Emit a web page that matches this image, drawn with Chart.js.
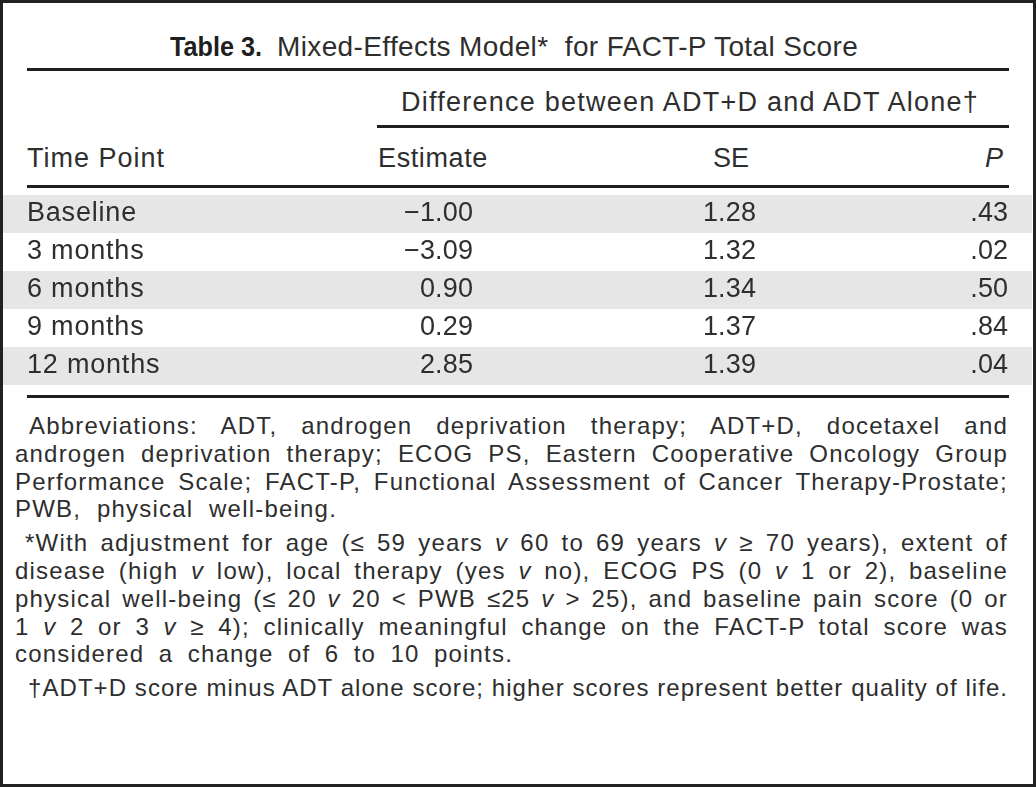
<!DOCTYPE html>
<html>
<head>
<meta charset="utf-8">
<script src="https://cdn.jsdelivr.net/npm/chart.js@4/dist/chart.umd.min.js"></script>
<style>
    html, body { margin: 0; padding: 0; background: #fff; }
    #page {
        position: relative; width: 1036px; height: 787px; overflow: hidden; background: #fff;
        font-family: "Liberation Sans", Arial, sans-serif; color: #2e2e2e;
    }
    #frame {
        position: absolute; left: 0; top: 0; width: 1036px; height: 787px; box-sizing: border-box;
        border: 3px solid #212121; pointer-events: none; z-index: 5;
    }
    .t { position: absolute; white-space: nowrap; line-height: 1; }
    .rule { position: absolute; height: 3px; background: #1e1e1e; }
    #tableNo { font-weight: bold; color: #1e1e1e; transform-origin: 0 0; }
    #rows { position: absolute; left: 3px; top: 195px; }
    #notes { position: absolute; left: 15px; top: 412px; font-size: 24px; line-height: 27.8px; letter-spacing: 1.2px; }
    .fl { white-space: nowrap; text-align: justify; text-align-last: justify; }
    .p { margin-top: 6px; }
</style>
</head>
<body>
<div id="page">
    <div class="t" id="tableNo" style="left:170px;top:33.3px;font-size:28px">Table 3.</div>
    <div class="t" id="ttl" style="left:277px;top:33.3px;font-size:28px">Mixed-Effects Model*&nbsp; for FACT-P Total Score</div>
    <div class="rule" style="left:27px;top:68px;width:982px"></div>

    <div class="t" id="diff" style="left:401px;top:89.1px;font-size:27px">Difference between ADT+D and ADT Alone†</div>
    <div class="rule" style="left:377px;top:125px;width:632px"></div>

    <div class="t" id="hTime" style="left:27px;top:145.1px;font-size:27px">Time Point</div>
    <div class="t" id="hEst" style="left:378px;top:145.1px;font-size:27px">Estimate</div>
    <div class="t" style="left:731px;top:145.1px;font-size:27px;transform:translateX(-50%)">SE</div>
    <div class="t" style="right:33px;top:145.1px;font-size:27px;font-style:italic">P</div>
    <div class="rule" style="left:27px;top:185px;width:982px"></div>

    <canvas id="rows" width="1029" height="190"></canvas>

    <div class="rule" style="left:27px;top:395px;width:982px"></div>

    <div id="notes">
        <div class="fl" style="padding-left:14px;width:979px">Abbreviations: ADT, androgen deprivation therapy; ADT+D, docetaxel and</div>
        <div class="fl" style="width:993px">androgen deprivation therapy; ECOG PS, Eastern Cooperative Oncology Group</div>
        <div class="fl" style="width:993px">Performance Scale; FACT-P, Functional Assessment of Cancer Therapy-Prostate;</div>
        <div class="fl" style="width:322px">PWB, physical well-being.</div>
        <div class="fl p" style="padding-left:10px;width:983px">*With adjustment for age (≤ 59 years <i>v</i> 60 to 69 years <i>v</i> ≥ 70 years), extent of</div>
        <div class="fl" style="width:993px">disease (high <i>v</i> low), local therapy (yes <i>v</i> no), ECOG PS (0 <i>v</i> 1 or 2), baseline</div>
        <div class="fl" style="width:993px">physical well-being (≤ 20 <i>v</i> 20 &lt; PWB ≤25 <i>v</i> &gt; 25), and baseline pain score (0 or</div>
        <div class="fl" style="width:993px">1 <i>v</i> 2 or 3 <i>v</i> ≥ 4); clinically meaningful change on the FACT-P total score was</div>
        <div class="fl" style="width:498px">considered a change of 6 to 10 points.</div>
        <div class="fl p" style="padding-left:13px;width:980px">†ADT+D score minus ADT alone score; higher scores represent better quality of life.</div>
    </div>

    <div id="frame"></div>
</div>

<script>
const timePoints     = ['Baseline', '3 months', '6 months', '9 months', '12 months'];
const estimates      = [-1.00, -3.09, 0.90, 0.29, 2.85];
const standardErrors = [1.28, 1.32, 1.34, 1.37, 1.39];
const pValues        = [0.43, 0.02, 0.50, 0.84, 0.04];

const ink       = '#2e2e2e';
const bandColor = '#e6e6e6';
const bodyFont  = { family: '"Liberation Sans", Arial, sans-serif', size: 27 };

// right edges of the number columns, in x-scale units (0..100 across the table)
const columnAnchors = { estimate: 45.7, se: 73.2, p: 97.7 };

const fmtSigned = v => (v < 0 ? '\u2212' : '') + Math.abs(v).toFixed(2);
const fmtP      = v => v.toFixed(2).replace(/^0/, '');

// stretch a header line to the width it has in the printed table
function fitWidth(el, target) {
    el.style.letterSpacing = '0px';
    const natural = el.getBoundingClientRect().width;
    el.style.letterSpacing = ((target - natural) / el.textContent.length).toFixed(2) + 'px';
}
// squeeze the bold label into a condensed look
function fitScale(el, target) {
    const natural = el.getBoundingClientRect().width;
    el.style.transform = `scaleX(${(target / natural).toFixed(3)})`;
}
fitScale(document.getElementById('tableNo'), 92);
fitWidth(document.getElementById('ttl'), 581);
fitWidth(document.getElementById('diff'), 578);
fitWidth(document.getElementById('hTime'), 138);
fitWidth(document.getElementById('hEst'), 110);

// footnote lines that would run past their box get a tighter tracking
document.querySelectorAll('.fl').forEach(el => {
    const over = el.scrollWidth - el.clientWidth;
    if (over > 0) {
        el.style.letterSpacing = (1.2 - (over + 2) / el.textContent.length).toFixed(2) + 'px';
    }
});

const cellText = {
    id: 'cellText',
    beforeDraw(chart) {
        chart.ctx.letterSpacing = '0.8px';
    },
    afterDraw(chart) {
        const { ctx, scales: { x, y } } = chart;
        ctx.save();
        ctx.letterSpacing = '0.2px';
        ctx.font = `${bodyFont.size}px ${bodyFont.family}`;
        ctx.fillStyle = ink;
        ctx.textAlign = 'right';
        ctx.textBaseline = 'middle';
        timePoints.forEach((_, i) => {
            const yy = y.getPixelForValue(i);
            ctx.fillText(fmtSigned(estimates[i]),      x.getPixelForValue(columnAnchors.estimate), yy);
            ctx.fillText(standardErrors[i].toFixed(2), x.getPixelForValue(columnAnchors.se), yy);
            ctx.fillText(fmtP(pValues[i]),             x.getPixelForValue(columnAnchors.p), yy);
        });
        ctx.restore();
    }
};

new Chart(document.getElementById('rows'), {
    type: 'bar',
    data: {
        labels: timePoints,
        datasets: [{
            // shaded band behind every other row
            data: timePoints.map((_, i) => (i % 2 === 0 ? [0, 100] : null)),
            backgroundColor: bandColor,
            borderWidth: 0,
            inflateAmount: 0,
            barPercentage: 1,
            categoryPercentage: 1,
        }],
    },
    options: {
        indexAxis: 'y',
        responsive: false,
        devicePixelRatio: 1,
        animation: false,
        events: [],
        layout: { padding: 0 },
        plugins: { legend: { display: false }, tooltip: { enabled: false } },
        scales: {
            x: { type: 'linear', min: 0, max: 100, display: false },
            y: {
                grid: { display: false, drawTicks: false },
                border: { display: false },
                ticks: { mirror: true, padding: 24, z: 1, autoSkip: false, color: ink, font: bodyFont },
                afterFit(scale) { scale.width = 0; scale.paddingTop = 0; scale.paddingBottom = 0; },
            },
        },
    },
    plugins: [cellText],
});
</script>
</body>
</html>
